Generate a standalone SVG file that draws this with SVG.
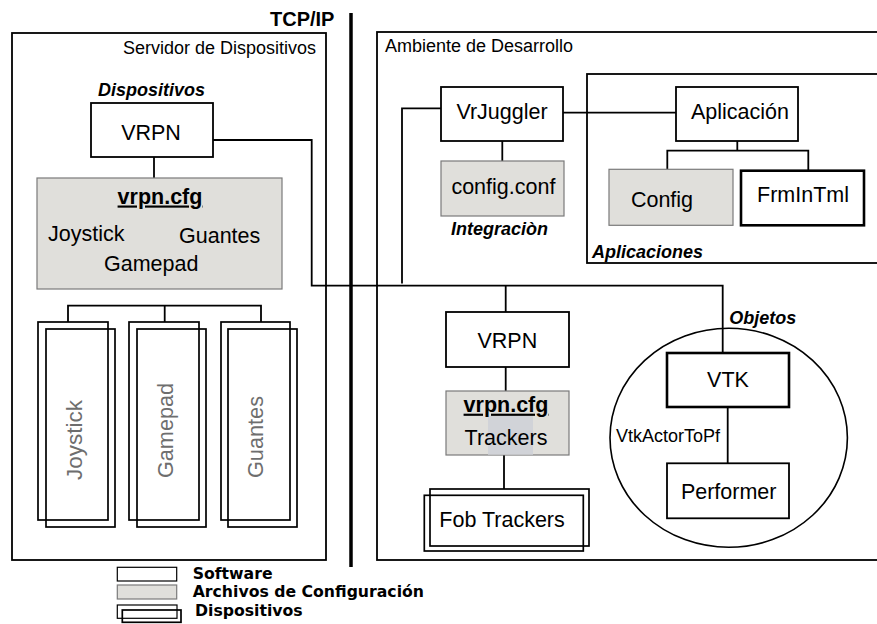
<svg xmlns="http://www.w3.org/2000/svg" width="877" height="624" viewBox="0 0 877 624">
<style>
  .box{fill:#ffffff;stroke:#000;stroke-width:1.8}
  .thick{fill:#ffffff;stroke:#000;stroke-width:2.6}
  .cfg{fill:#e0dfdb;stroke:#7a7a7a;stroke-width:1.2}
  .dev{fill:none;stroke:#000;stroke-width:1.7}
  .panel{fill:none;stroke:#000;stroke-width:1.8}
  .con{fill:none;stroke:#000;stroke-width:1.8}
  .t{font-family:"Liberation Sans",Arial,sans-serif;font-size:21.5px;fill:#000}
  .ts{font-family:"Liberation Sans",Arial,sans-serif;font-size:18px;fill:#000}
  .tb{font-family:"Liberation Sans",Arial,sans-serif;font-size:21.5px;font-weight:bold;fill:#000;text-decoration:underline}
  .bi{font-family:"Liberation Sans",Arial,sans-serif;font-size:18px;font-weight:bold;font-style:italic;fill:#000}
  .rot{font-family:"Liberation Sans",Arial,sans-serif;font-size:21.5px;fill:#6e6e6e}
  .leg{font-family:"DejaVu Sans",Verdana,sans-serif;font-size:15.7px;font-weight:bold;fill:#000}
  .m{text-anchor:middle}
</style>
<rect x="0" y="0" width="877" height="624" fill="#ffffff"/>

<!-- panels -->
<g id="panel-servidor">
  <rect class="panel" x="12" y="33" width="314" height="527"/>
  <text class="ts" x="316" y="54" text-anchor="end">Servidor de Dispositivos</text>
</g>
<g id="panel-ambiente">
  <rect class="panel" x="377" y="32" width="520" height="528"/>
  <text class="ts" x="385" y="52">Ambiente de Desarrollo</text>
</g>
<g id="panel-aplicaciones">
  <rect class="panel" x="587" y="74" width="320" height="189"/>
  <text class="bi" x="592" y="258">Aplicaciones</text>
</g>
<g id="tcpip">
  <line x1="351" y1="13" x2="351" y2="567" stroke="#000" stroke-width="3.5"/>
  <text x="270" y="26" font-family="Liberation Sans, Arial, sans-serif" font-size="20" font-weight="bold">TCP/IP</text>
</g>

<!-- connectors -->
<g id="connectors">
  <path class="con" d="M213,140 H311.7 V285.7 H722.7 V353"/>
  <path class="con" d="M402,283.5 V108.3 H441"/>
  <path class="con" d="M505.7,285.7 V312"/>
  <path class="con" d="M154,157 V178"/>
  <path class="con" d="M68,322 V305.7 H261 V322"/>
  <path class="con" d="M164.7,305.7 V322"/>
  <path class="con" d="M563,112.7 H676"/>
  <path class="con" d="M502.3,141 V161"/>
  <path class="con" d="M737.3,141 V150.7"/>
  <path class="con" d="M667.3,169.3 V150.7 H808.3 V170.7"/>
  <path class="con" d="M505.7,367 V391"/>
  <path class="con" d="M504,455 V489"/>
  <path class="con" d="M727.7,407 V463"/>
</g>

<!-- left side nodes -->
<g id="dispositivos-vrpn">
  <text class="bi" x="98" y="95.5" textLength="107" lengthAdjust="spacingAndGlyphs">Dispositivos</text>
  <rect class="box" x="91" y="103" width="122" height="54"/>
  <text class="t m" x="151" y="140">VRPN</text>
</g>
<g id="vrpn-cfg-left">
  <rect class="cfg" x="37" y="178" width="245" height="111"/>
  <text class="tb m" x="160" y="203.5">vrpn.cfg</text>
  <text class="t" x="48" y="240.7">Joystick</text>
  <text class="t" x="179" y="243">Guantes</text>
  <text class="t" x="104" y="270.7">Gamepad</text>
</g>
<g id="dev-joystick">
  <rect class="dev" x="38" y="322" width="70" height="198"/>
  <rect class="dev" x="46" y="329" width="69" height="198"/>
  <text class="rot" transform="translate(81.7,480) rotate(-90)" x="0" y="0" textLength="80" lengthAdjust="spacingAndGlyphs">Joystick</text>
</g>
<g id="dev-gamepad">
  <rect class="dev" x="129" y="322" width="70" height="198"/>
  <rect class="dev" x="137" y="329" width="69" height="198"/>
  <text class="rot" transform="translate(173.3,478) rotate(-90)" x="0" y="0" textLength="95" lengthAdjust="spacingAndGlyphs">Gamepad</text>
</g>
<g id="dev-guantes">
  <rect class="dev" x="221" y="322" width="69" height="198"/>
  <rect class="dev" x="228" y="329" width="69" height="198"/>
  <text class="rot" transform="translate(262.7,478) rotate(-90)" x="0" y="0" textLength="82" lengthAdjust="spacingAndGlyphs">Guantes</text>
</g>

<!-- right side nodes -->
<g id="vrjuggler">
  <rect class="box" x="441" y="87" width="122" height="54"/>
  <text class="t m" x="502" y="119">VrJuggler</text>
</g>
<g id="config-conf">
  <rect class="cfg" x="441" y="161" width="123" height="55"/>
  <text class="t m" x="503.4" y="194.3">config.conf</text>
  <text class="bi" x="451" y="235">Integraciòn</text>
</g>
<g id="aplicacion">
  <rect class="box" x="676" y="87" width="122" height="54"/>
  <text class="t m" x="740" y="119">Aplicación</text>
</g>
<g id="config">
  <rect class="cfg" x="609" y="169.3" width="124" height="56"/>
  <text class="t m" x="662" y="206.7">Config</text>
</g>
<g id="frmintml">
  <rect class="thick" x="741" y="170.7" width="123" height="54.6"/>
  <text class="t m" x="803" y="202.3">FrmInTml</text>
</g>
<g id="vrpn-right">
  <rect class="box" x="446" y="312" width="123" height="55"/>
  <text class="t m" x="507.3" y="347.7">VRPN</text>
</g>
<g id="vrpn-cfg-right">
  <rect class="cfg" x="446" y="391" width="123" height="64"/>
  <rect x="488" y="415.7" width="45" height="39" fill="#d1d3d8"/>
  <text class="tb m" x="506" y="411.7">vrpn.cfg</text>
  <text class="t m" x="506" y="445">Trackers</text>
</g>
<g id="fob-trackers">
  <rect class="dev" x="430" y="489" width="159" height="57"/>
  <rect class="dev" x="424.3" y="495.3" width="159" height="55.7"/>
  <text class="t" x="439.3" y="526.7">Fob Trackers</text>
</g>
<g id="objetos">
  <ellipse cx="728.7" cy="437.8" rx="118.7" ry="109.5" fill="none" stroke="#000" stroke-width="1.6"/>
  <text class="bi" x="729.3" y="324.3">Objetos</text>
  <text class="ts" x="616" y="441.7">VtkActorToPf</text>
</g>
<g id="vtk">
  <rect class="thick" x="667" y="353" width="122" height="54"/>
  <text class="t m" x="728" y="387.3">VTK</text>
</g>
<g id="performer">
  <rect class="box" x="667" y="463.3" width="122" height="55"/>
  <text class="t m" x="728.7" y="499.3">Performer</text>
</g>

<!-- legend -->
<g id="legend">
  <rect x="117.3" y="567.3" width="59.4" height="13.7" fill="#fff" stroke="#000" stroke-width="1.2"/>
  <rect x="117.3" y="585" width="59.4" height="14" fill="#e0dfdb" stroke="#7a7a7a" stroke-width="1.2"/>
  <rect x="117.3" y="605" width="59.7" height="13.3" fill="none" stroke="#000" stroke-width="1.2"/>
  <rect x="122.3" y="610" width="58.7" height="12.3" fill="none" stroke="#000" stroke-width="1.7"/>
  <text class="leg" x="192.7" y="578.5">Software</text>
  <text class="leg" x="192.7" y="596.5">Archivos de Configuración</text>
  <text class="leg" x="195" y="615.7">Dispositivos</text>
</g>
</svg>
